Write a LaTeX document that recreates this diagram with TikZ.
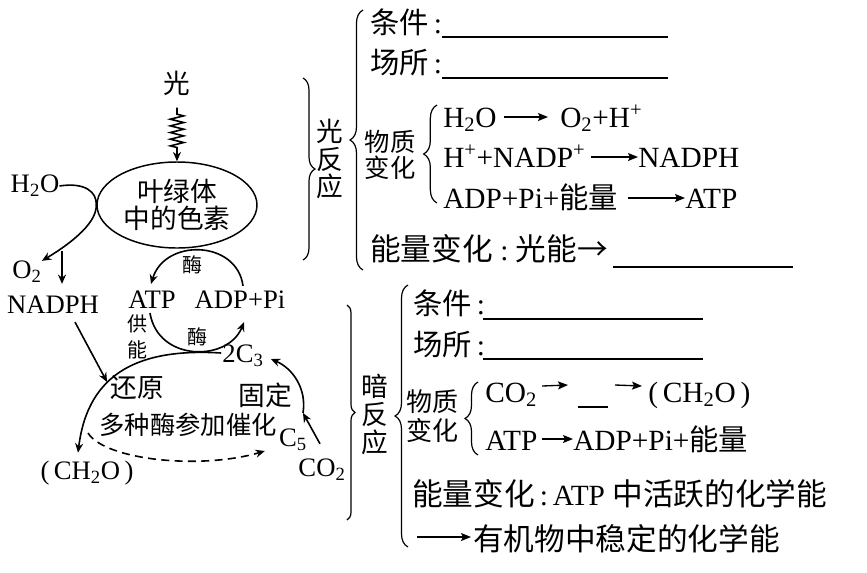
\documentclass[tikz,border=0pt]{standalone}
\usepackage{fontspec}
\setmainfont{Liberation Serif}
\newfontfamily\cjk{Noto Sans CJK SC}
\newcommand\zhtxt[1]{{\cjk #1}}
\newcommand\zhbig[1]{{\cjk\fontsize{23}{26}\selectfont #1}}
\usetikzlibrary{arrows.meta,calc,shapes.geometric,decorations.pathreplacing,decorations.pathmorphing}
\begin{document}
\begin{tikzpicture}[x=0.75pt,y=-0.75pt,
  lt/.style={inner sep=0pt,font=\fontsize{20}{24}\selectfont},
  sm/.style={inner sep=0pt,font=\fontsize{15}{20}\selectfont},
  rt/.style={inner sep=0pt,anchor=base west,font=\fontsize{22}{26}\selectfont},
  arr/.style={line width=1.2pt,-{Stealth[length=7pt,width=6pt]}},
  rxn/.style={line width=1pt,-{Stealth[length=7.5pt,width=6pt,inset=1.5pt]}},
  uline/.style={line width=0.9pt},
  brc/.style={line width=0.9pt,decorate,decoration={brace,amplitude=#1}},
  vtext/.style={inner sep=0pt,align=center,font=\cjk\fontsize{20}{20.6}\selectfont},
]
\useasboundingbox (0,0) rectangle (867,572);

% ---------------- left diagram ----------------
\node[lt] (light) at (177,83) {\zhtxt{光}};
\node[draw,ellipse,line width=1.1pt,inner sep=0pt,minimum width=120pt,minimum height=64.5pt,
      align=center,font=\cjk\fontsize{20}{20}\selectfont] (chl) at (177,205) {叶绿体\\中的色素};
\node[lt] (h2o) at (35,186) {H\textsubscript{2}O};
\node[lt] (o2) at (27,272) {O\textsubscript{2}};
\node[lt] (nadph) at (53,305) {NADPH};
\node[lt] (atp) at (152,300) {ATP};
\node[lt] (adp) at (240,300) {ADP+Pi};
\node[sm] (mei1) at (192,265) {\zhtxt{酶}};
\node[sm] (mei2) at (197,337) {\zhtxt{酶}};
\node[sm,align=center,font=\cjk\fontsize{15}{20}\selectfont] (gn) at (137,337) {供\\能};
\node[lt] (c3) at (243,356) {2C\textsubscript{3}};
\node[lt] (hy) at (137,388) {\zhtxt{还原}};
\node[lt] (gd) at (265,395) {\zhtxt{固定}};
\node[lt,font=\cjk\fontsize{19}{20}\selectfont] (dz) at (188,425) {多种酶参加催化};
\node[lt] (c5) at (293,440) {C\textsubscript{5}};
\node[lt] (co2) at (322,470) {CO\textsubscript{2}};
\node[lt] (ch2o) at (87,473) {(\,CH\textsubscript{2}O\,)};

\coordinate (split) at (62,251);
\coordinate (fix) at (303,413);
\coordinate (dstart) at (88,433);

\draw[arr,decorate,decoration={zigzag,segment length=5pt,amplitude=5pt,pre length=5pt,post length=10pt}]
  ($(light.south)+(0,12)$) -- (chl.north);
\draw[arr] (h2o.east) .. controls (85,182) and (97,192) .. (chl.west)
  .. controls (97,225) and (65,247) .. (o2.north east);
\draw[arr] (split) -- ($(split |- nadph.north)+(0,-12)$);
\draw[arr] ($(adp.north)+(3,-5)$) .. controls (237,240) and (165,238) .. ($(atp.north)+(-1,-7)$);
\draw[arr] ($(atp.south)+(-2,4)$) .. controls (158,362) and (228,362) .. ($(adp.south)+(4,13)$);
\draw[arr] ($(c3.west)+(-1,-3)$) .. controls (140,348) and (88,372) .. ($(ch2o.north)+(-9,-8)$);
\draw[arr] ($(nadph.south)+(22,8)$) -- ($(hy.west)+(-3,-6)$);
\draw[arr] (fix) .. controls (307,388) and (292,368) .. ($(c3.east)+(7,3)$);
\draw[arr] ($(co2.north)+(-2,-15)$) -- (fix);
\draw[arr,dash pattern=on 6pt off 4pt] (dstart) .. controls (105,460) and (200,470) .. ($(c5.west)+(-14,11)$);

% ---------------- light reaction ----------------
\draw[brc=9pt] (303,78) -- (303,260);
\node[vtext] (gfy) at (330,159) {光\\反\\应};
\draw[brc=9.75pt] (363,270) -- (363,10);

\node[rt] (gtj) at (370,33) {\zhtxt{条件}\,:};
\draw[uline] (442,37) -- (668,37);
\node[rt] (gcs) at (370,73) {\zhtxt{场所}\,:};
\draw[uline] (442,78) -- (668,78);

\node[vtext,font=\cjk\fontsize{19}{19.5}\selectfont] (gwz) at (390,155) {物质\\变化};
\draw[brc=10pt] (437,203) -- (437,105);

\node[rt] (l1a) at (443,127) {H\textsubscript{2}O};
\node[rt] (l1b) at (560,127) {O\textsubscript{2}+H\textsuperscript{+}};
\draw[rxn] ($(l1a.base east)+(7,-10)$) -- ($(l1b.base west)+(-12,-10)$);

\node[rt] (l2a) at (443,167) {H\textsuperscript{+}+NADP\textsuperscript{+}};
\node[rt] (l2b) at (638,167) {NADPH};
\draw[rxn] ($(l2a.base east)+(5,-10)$) -- ($(l2b.base west)+(0,-10)$);

\node[rt] (l3a) at (443,208) {ADP+Pi+\zhtxt{能量}};
\node[rt] (l3b) at (685,208) {ATP};
\draw[rxn] ($(l3a.base east)+(10,-10)$) -- ($(l3b.base west)+(0,-10)$);

\node[rt] (gnl) at (370,260) {\zhbig{能量变化}\hspace{5.5pt}:\hspace{5.5pt}\zhbig{光能→}};
\draw[uline] (613,267) -- (793,267);

% ---------------- dark reaction ----------------
\draw[brc=6pt] (347,305) -- (347,520);
\node[vtext,font=\cjk\fontsize{20}{21}\selectfont] (afy) at (375,414) {暗\\反\\应};
\draw[brc=9.75pt] (408,547) -- (408,285);

\node[rt] (atj) at (413,314) {\zhtxt{条件}\,:};
\draw[uline] (483,319) -- (703,319);
\node[rt] (acs) at (413,355) {\zhtxt{场所}\,:};
\draw[uline] (483,359) -- (703,359);

\node[vtext,font=\cjk\fontsize{19.5}{21.75}\selectfont] (awz) at (432,416) {物质\\变化};
\draw[brc=9.75pt] (478,455) -- (478,382);

\node[rt] (d1a) at (485,402) {CO\textsubscript{2}};
\coordinate (bl1) at (578,407);
\coordinate (bl2) at (608,407);
\draw[uline] (bl1) -- (bl2);
\node[rt] (d1b) at (648,402) {(\,CH\textsubscript{2}O\,)};
\draw[rxn] ($(d1a.base east)+(5,-16)$) -- ($(bl1)+(-10,-22)$);
\draw[rxn] ($(bl2)+(7,-22)$) -- ($(d1b.base west)+(-6,-16)$);

\node[rt] (d2a) at (485,450) {ATP};
\node[rt] (d2b) at (573,450) {ADP+Pi+\zhtxt{能量}};
\draw[rxn] ($(d2a.base east)+(4,-11)$) -- ($(d2b.base west)+(0,-11)$);

\node[rt] (d3) at (412,505) {\zhbig{能量变化}\,:\,ATP \zhbig{中活跃的化学能}};
\coordinate (la) at (417,537);
\node[rt] (d4) at (473,550) {\zhbig{有机物中稳定的化学能}};
\draw[rxn] (la) -- ($(d4.base west)+(-2,-13)$);
\end{tikzpicture}
\end{document}
